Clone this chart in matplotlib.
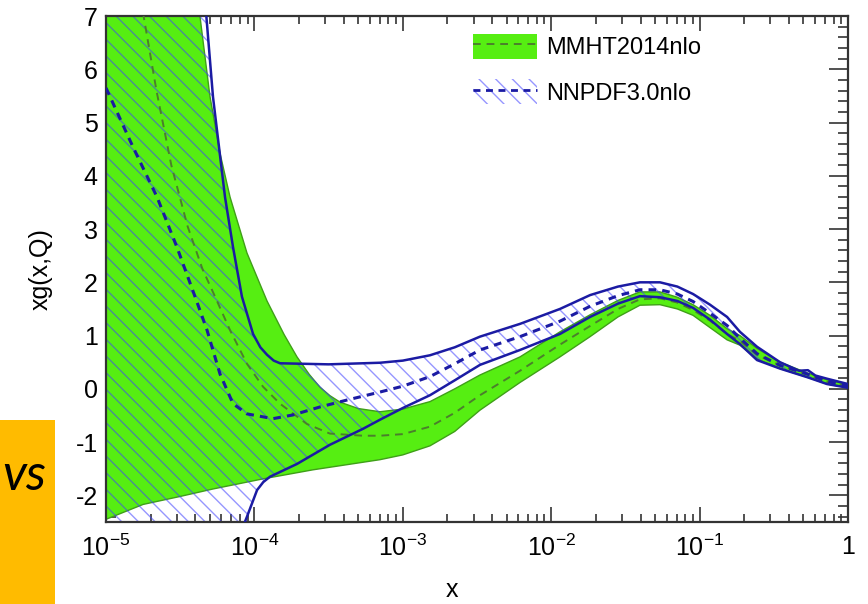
import numpy as np
import matplotlib
matplotlib.use('Agg')
import matplotlib.pyplot as plt
from matplotlib.patches import Patch, Rectangle
from matplotlib.lines import Line2D
from matplotlib.ticker import MultipleLocator, LogLocator, NullFormatter

plt.rcParams['font.family'] = ['Liberation Sans', 'DejaVu Sans']
plt.rcParams['mathtext.fontset'] = 'custom'
plt.rcParams['mathtext.rm'] = 'Liberation Sans'
plt.rcParams['mathtext.it'] = 'Liberation Sans:italic'
plt.rcParams['axes.unicode_minus'] = False
plt.rcParams['hatch.linewidth'] = 1.0

# values, x given as log10(x)
mmht_hi_lx = [-5.0, -4.6, -4.367, -4.30, -4.23, -4.164, -4.05, -3.915, -3.80, -3.713, -3.63, -3.558,
              -3.49, -3.423, -3.30, -3.154, -3.0, -2.817, -2.65, -2.48, -2.21, -1.941, -1.738, -1.55,
              -1.402, -1.267, -1.15, -1.044, -0.93, -0.815, -0.728, -0.613, -0.458, -0.276, -0.141, 0.0]
mmht_hi = [12.0, 8.3, 7.0, 5.5, 4.4, 3.6, 2.55, 1.65, 1.02, 0.6, 0.27, 0.03,
           -0.13, -0.25, -0.37, -0.43, -0.38, -0.24, 0.0, 0.26, 0.6, 1.07, 1.39, 1.66,
           1.82, 1.82, 1.72, 1.58, 1.38, 1.13, 1.0, 0.76, 0.5, 0.30, 0.17, 0.08]

mmht_lo_lx = [-5.0, -4.75, -4.5, -4.279, -3.942, -3.605, -3.154, -3.0, -2.817, -2.65, -2.48, -2.21,
              -1.941, -1.738, -1.55, -1.402, -1.267, -1.15, -1.044, -0.93, -0.815, -0.728, -0.613,
              -0.458, -0.276, -0.141, 0.0]
mmht_lo = [-2.45, -2.17, -2.02, -1.88, -1.69, -1.52, -1.33, -1.24, -1.07, -0.8, -0.4, 0.12,
           0.6, 0.98, 1.35, 1.57, 1.58, 1.5, 1.38, 1.15, 0.92, 0.82, 0.56,
           0.38, 0.22, 0.09, 0.02]

mmht_c_lx = [-5.0, -4.85, -4.751, -4.66, -4.56, -4.45, -4.35, -4.265, -4.164, -4.05, -3.942, -3.827,
             -3.646, -3.491, -3.268, -3.154, -3.0, -2.817, -2.65, -2.48, -2.21, -1.941, -1.738, -1.55,
             -1.402, -1.267, -1.15, -1.044, -0.93, -0.815, -0.728, -0.613, -0.458, -0.276, -0.141, 0.0]
mmht_c = [10.0, 8.6, 7.07, 5.6, 4.2, 3.05, 2.25, 1.73, 1.1, 0.47, 0.04, -0.28,
          -0.66, -0.84, -0.88, -0.88, -0.85, -0.71, -0.45, -0.12, 0.34, 0.83, 1.18, 1.5,
          1.68, 1.7, 1.62, 1.48, 1.28, 1.03, 0.9, 0.64, 0.44, 0.27, 0.13, 0.05]

nn_hi_lx = [-5.0, -4.6, -4.326, -4.279, -4.198, -4.144, -4.084, -4.009, -3.96, -3.915, -3.87, -3.827,
            -3.5, -3.154, -3.0, -2.817, -2.65, -2.48, -2.21, -1.941, -1.738, -1.55, -1.402, -1.267,
            -1.15, -1.044, -0.93, -0.815, -0.728, -0.613, -0.458, -0.33, -0.27, -0.22, -0.141, 0.0]
nn_hi = [14.0, 10.0, 7.07, 5.48, 3.6, 2.66, 1.73, 1.03, 0.78, 0.64, 0.53, 0.48,
         0.46, 0.49, 0.53, 0.63, 0.78, 0.98, 1.22, 1.5, 1.76, 1.92, 2.0, 2.0,
         1.92, 1.78, 1.58, 1.35, 1.07, 0.79, 0.5, 0.34, 0.35, 0.25, 0.19, 0.09]

nn_lo_lx = [-5.0, -4.4, -4.1, -4.05, -3.982, -3.94, -3.895, -3.713, -3.491, -3.268, -3.154, -3.0,
            -2.817, -2.65, -2.48, -2.21, -1.941, -1.738, -1.55, -1.402, -1.267, -1.15, -1.044,
            -0.93, -0.815, -0.728, -0.613, -0.458, -0.276, -0.141, 0.0]
nn_lo = [-4.5, -3.5, -2.75, -2.4, -1.9, -1.75, -1.65, -1.41, -1.05, -0.75, -0.58, -0.36,
         -0.12, 0.16, 0.45, 0.73, 1.03, 1.35, 1.6, 1.74, 1.72, 1.65, 1.52,
         1.3, 1.03, 0.84, 0.54, 0.38, 0.22, 0.09, 0.02]

nn_c_lx = [-5.0, -4.818, -4.656, -4.522, -4.4, -4.319, -4.232, -4.144, -4.05, -3.875, -3.74, -3.558,
           -3.376, -3.154, -3.0, -2.817, -2.65, -2.48, -2.21, -1.941, -1.738, -1.55, -1.402,
           -1.267, -1.15, -1.044, -0.93, -0.815, -0.728, -0.613, -0.458, -0.276, -0.141, 0.0]
nn_c = [5.65, 4.54, 3.6, 2.66, 1.73, 1.1, 0.28, -0.28, -0.47, -0.56, -0.49, -0.34,
        -0.21, -0.06, 0.05, 0.23, 0.47, 0.73, 0.98, 1.27, 1.55, 1.75, 1.86,
        1.86, 1.78, 1.64, 1.42, 1.19, 0.95, 0.66, 0.44, 0.28, 0.14, 0.05]

xticks = [1e-5, 1e-4, 1e-3, 1e-2, 1e-1, 1]
xticklabels = ['10$^{-5}$', '10$^{-4}$', '10$^{-3}$', '10$^{-2}$', '10$^{-1}$', '1']
labels = ['MMHT2014nlo', 'NNPDF3.0nlo']

green = '#56ee12'
green_edge = '#3f9f18'
green_dash = '#4b7f2c'
blue = '#1b1ba3'
hatch_col = (0.25, 0.25, 1.0, 0.55)


def band(lx_hi, hi, lx_lo, lo):
    xs = np.concatenate([10.0 ** np.array(lx_hi), 10.0 ** np.array(lx_lo)[::-1]])
    ys = np.concatenate([np.array(hi), np.array(lo)[::-1]])
    return xs, ys


fig = plt.figure(figsize=(8.68, 6.04), dpi=100)
ax = fig.add_axes([106 / 868, 1 - 522 / 604, (848 - 106) / 868, (522 - 16) / 604])
ax.set_xscale('log')

gx, gy = band(mmht_hi_lx, mmht_hi, mmht_lo_lx, mmht_lo)
ax.fill(gx, gy, facecolor=green, edgecolor=green_edge, lw=1.0, zorder=1)

bx, by = band(nn_hi_lx, nn_hi, nn_lo_lx, nn_lo)
ax.fill(bx, by, facecolor='none', edgecolor=hatch_col, hatch='\\\\', lw=0, zorder=2)

ax.plot(10.0 ** np.array(mmht_c_lx), mmht_c, color=green_dash, lw=1.4, ls=(0, (4, 3)), zorder=3)
ax.plot(10.0 ** np.array(nn_hi_lx), nn_hi, color=blue, lw=1.8, zorder=4)
ax.plot(10.0 ** np.array(nn_lo_lx), nn_lo, color=blue, lw=1.8, zorder=4)
ax.plot(10.0 ** np.array(nn_c_lx), nn_c, color=blue, lw=2.2, ls=(0, (2.5, 2)), zorder=5)

ax.set_xlim(1e-5, 1)
ax.set_ylim(-2.5, 7)
ax.set_axisbelow(True)

ax.set_xticks(xticks, xticklabels)
ax.xaxis.set_minor_locator(LogLocator(base=10, subs=np.arange(2, 10), numticks=20))
ax.xaxis.set_minor_formatter(NullFormatter())
ax.yaxis.set_major_locator(MultipleLocator(1))
ax.yaxis.set_minor_locator(MultipleLocator(0.2))

ax.tick_params(which='both', direction='in', top=True, right=True, left=True, bottom=True,
               color='#333333', width=1.2)
ax.tick_params(axis='x', which='major', length=11, labelsize=18, pad=9)
ax.tick_params(axis='x', which='minor', length=5.5)
ax.tick_params(axis='y', which='major', length=14, labelsize=18, pad=6)
ax.tick_params(axis='y', which='minor', length=7)
for s in ax.spines.values():
    s.set_linewidth(1.6)
    s.set_color('#333333')

ax.set_ylabel('xg(x,Q)', fontsize=18)
ax.yaxis.set_label_coords(-0.072, 0.5)
fig.text(452 / 868, 1 - 590 / 604, 'x', ha='center', va='center', fontsize=18)

h1 = (Patch(facecolor=green, edgecolor='none'),
      Line2D([], [], color=green_dash, lw=1.4, ls=(0, (4, 3))))
h2 = (Patch(facecolor='none', edgecolor=hatch_col, hatch='\\\\', lw=0),
      Line2D([], [], color=blue, lw=2.0, ls=(0, (2.5, 2))))
ax.legend([h1, h2], labels, loc='upper left', bbox_to_anchor=(473 / 868, 1 - 34 / 604),
          bbox_transform=fig.transFigure, frameon=False, fontsize=17, handlelength=2.7,
          handleheight=1.25, handletextpad=0.4, labelspacing=0.85, borderpad=0, borderaxespad=0)

# orange box from the slide behind the figure
fig.add_artist(Rectangle((0, 0), 55 / 868, 184 / 604, transform=fig.transFigure,
                         facecolor='#ffbb00', edgecolor='none'))
fig.text(2 / 868, 1 - 476 / 604, 'vs', ha='left', va='center', fontsize=36,
         family='Lato', style='italic', color='black')

fig.savefig('out.png', dpi=100)
